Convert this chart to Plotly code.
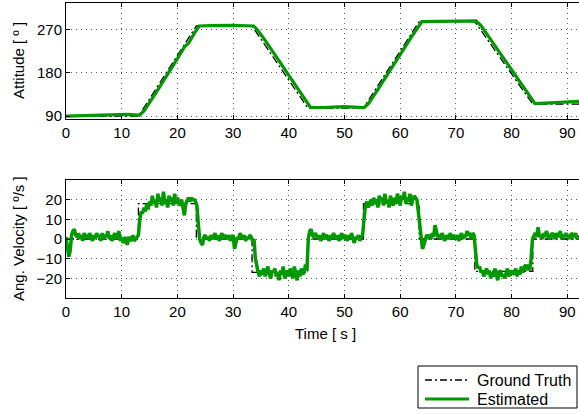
import plotly.graph_objects as go
from plotly.subplots import make_subplots

# ---------------- data ----------------
# Ground truth attitude breakpoints [s], [deg]
gt_att_t = [0, 13.0, 23.4, 33.4, 43.4, 53.4, 63.4, 73.4, 83.8, 92.2]
gt_att_v = [90, 90, 278, 278, 107, 107, 287, 287, 115, 115]

# Estimated attitude
est_att_t = [0, 3, 6, 9, 11, 13.2, 14, 16, 18, 20, 21.3, 22, 23, 23.9, 26, 30, 33.7,
             34.5, 36, 38, 40, 42, 43.9, 46, 50, 53.5, 54.3, 56, 58, 60, 62, 63.9,
             66, 70, 73.6, 74.5, 76, 78, 80, 82, 84.2, 86, 89, 92.2]
est_att_v = [90, 91, 92, 93, 93.5, 92, 101, 136, 172, 210, 235, 242, 262, 278, 279, 279.5, 278,
             268, 244, 210, 177, 142, 108, 108, 110, 108, 116, 146, 183, 219, 255, 287,
             287, 288, 288.5, 279, 254, 221, 187, 152, 116, 117, 119, 121]

# Ground truth angular velocity (step profile) [s], [deg/s]
gt_vel_t = [0, 13.0, 13.0, 23.4, 23.4, 33.4, 33.4, 43.4, 43.4, 53.4, 53.4, 63.4, 63.4,
            73.4, 73.4, 83.8, 83.8, 92.2]
gt_vel_v = [0, 0, 18, 18, 0, 0, -17, -17, 0, 0, 18, 18, 0, 0, -16.5, -16.5, 0, 0]

# Estimated angular velocity, sampled every 0.25 s from t = 0 (one row = 5 s)
est_vel_t0 = 0.0
est_vel_dt = 0.25
est_vel_v = [
    1, -3, -9, -6, 2, 4, 5, 2, 1, 3, 0, 2, -1, 3, 1, 2, 0, 3, 1, -1,                    # 0-5
    2, 0, 3, 1, 2, -1, 3, 0, 2, 1, 4, 0, 2, -1, 1, 3, 0, 2, 4, -1,                      # 5-10
    1, -2, 0, 1, -3, 1, 0, -1, 2, -1, 0, 1, 2, 10, 14, 13, 16, 14, 18, 15,              # 10-15
    19, 17, 22, 18, 20, 16, 23, 19, 21, 17, 24, 18, 20, 16, 22, 19, 21, 17, 23, 18,     # 15-20
    21, 19, 17, 20, 15, 12, 18, 20, 21, 19, 21, 20, 20, 19, 17, 8, 0, -2, -3, 1,        # 20-25
    2, 0, 1, -1, 2, 0, 1, 3, 0, 2, -1, 1, 3, 0, 2, 1, 0, 2, -1, 1,                      # 25-30
    2, -5, -2, 1, 0, 3, 1, 0, 2, -1, 1, 0, 2, 1, -1, 0, -10, -15, -17, -19,             # 30-35
    -16, -18, -15, -19, -17, -14, -18, -20, -16, -17, -15, -19, -17, -21, -16, -18, -14, -20, -18, -16,  # 35-40
    -19, -15, -18, -20, -14, -17, -21, -16, -19, -15, -18, -17, -13, -16, 0, 4, 5, 2, 1, 3,             # 40-45
    1, 0, 2, -1, 1, 3, 0, 2, 1, -1, 2, 0, 3, 1, 0, 2, -1, 1, 3, 0,                      # 45-50
    2, 1, -1, 2, 0, 3, 1, -2, 1, 0, 2, -1, 1, 2, 10, 17, 19, 16, 18, 20,                # 50-55
    17, 21, 18, 20, 16, 22, 19, 21, 17, 23, 18, 20, 16, 22, 19, 17, 21, 18, 23, 19,     # 55-60
    17, 22, 20, 24, 18, 21, 19, 23, 17, 20, 22, 21, 20, 14, 8, -1, -5, -3, 0, 2,        # 60-65
    1, 2, 0, 3, 1, 7, 4, 1, 2, 0, 3, 1, -1, 2, 0, 1, 3, 0, 2, 1,                        # 65-70
    0, 2, -1, 1, 3, 0, 2, 1, 4, 2, 3, 0, 3, 2, -6, -13, -15, -14, -17, -16,             # 70-75
    -19, -17, -15, -18, -16, -20, -17, -19, -15, -18, -21, -17, -16, -19, -18, -20, -17, -15, -19, -17,  # 75-80
    -16, -18, -17, -15, -19, -16, -18, -14, -17, -15, -13, -16, -13, -16, -10, 0, 2, 3, 1, 6,           # 80-85
    1, 2, 0, 3, 1, 4, 2, 0, 1, 3, 2, 0, 3, 1, 2, 4, 0, 2, 1, 3,                         # 85-90
    1, 2, 0, 3, 2, 1, 3, 0, 2,                                                           # 90-92
]
est_vel_t = [est_vel_t0 + i * est_vel_dt for i in range(len(est_vel_v))]

x_ticks = [0, 10, 20, 30, 40, 50, 60, 70, 80, 90]
att_ticks = [90, 180, 270]
vel_ticks = [-20, -10, 0, 10, 20]
legend_labels = ["Ground Truth", "Estimated"]

# ---------------- figure ----------------
W, H = 579, 414
ML, MT, MB = 66, 3, 116
plot_w = W - ML
plot_h = H - MT - MB

def py(Y):  # pixel row -> paper y
    return (H - MB - Y) / plot_h

def px(X):  # pixel column -> paper x
    return (X - ML) / plot_w

fig = make_subplots(rows=2, cols=1)
fig.update_layout(
    xaxis=dict(domain=[0, 1]), xaxis2=dict(domain=[0, 1]),
    yaxis=dict(domain=[py(119), 1.0]), yaxis2=dict(domain=[0, py(180)]),
)

GREEN = "#009a00"
DASH = "8px,3px,2px,3px"
GT_LINE = dict(color="black", width=1.3, dash=DASH)

fig.add_trace(go.Scatter(x=gt_att_t, y=gt_att_v, mode="lines", name=legend_labels[0],
                         line=GT_LINE, showlegend=False), row=1, col=1)
fig.add_trace(go.Scatter(x=est_att_t, y=est_att_v, mode="lines", name=legend_labels[1],
                         line=dict(color=GREEN, width=3.2), showlegend=False), row=1, col=1)
fig.add_trace(go.Scatter(x=gt_vel_t, y=gt_vel_v, mode="lines", name=legend_labels[0],
                         line=GT_LINE, showlegend=False), row=2, col=1)
fig.add_trace(go.Scatter(x=est_vel_t, y=est_vel_v, mode="lines", name=legend_labels[1],
                         line=dict(color=GREEN, width=3.5), showlegend=False), row=2, col=1)

FONT = dict(family="Liberation Sans, Arial, sans-serif", size=15, color="black")
LFONT = dict(family="Liberation Sans, Arial, sans-serif", size=16, color="black")
axis_common = dict(
    showline=True, linecolor="black", linewidth=1,
    ticks="inside", ticklen=4, tickcolor="black",
    showgrid=True, gridcolor="#555555", gridwidth=1, griddash="1px,4px",
    zeroline=False, tickfont=FONT, automargin=False,
)

for r in (1, 2):
    fig.update_xaxes(range=[0, 92.1], tickvals=x_ticks, mirror="ticks", row=r, col=1, **axis_common)
fig.update_yaxes(range=[84, 326], tickvals=att_ticks, row=1, col=1, **axis_common)
fig.update_yaxes(range=[-30, 30], tickvals=vel_ticks, row=2, col=1, **axis_common)

annos = [
    dict(text="Attitude [ º ]", x=18, y=61, textangle=-90, xanchor="center", font=FONT),
    dict(text="Ang. Velocity [ º/s ]", x=18, y=239, textangle=-90, xanchor="center", font=FONT),
    dict(text="Time [ s ]", x=325, y=333, textangle=0, xanchor="center", font=FONT),
    dict(text=legend_labels[0], x=475, y=380, textangle=0, xanchor="left", font=LFONT),
    dict(text=legend_labels[1], x=475, y=399, textangle=0, xanchor="left", font=LFONT),
]
for a in annos:
    fig.add_annotation(text=a["text"], xref="paper", yref="paper",
                       x=px(a["x"]), y=py(a["y"]), textangle=a["textangle"],
                       showarrow=False, xanchor=a["xanchor"], yanchor="middle", font=a["font"])

# legend box and symbols (paper coordinates)
fig.add_shape(type="rect", xref="paper", yref="paper",
              x0=px(418), x1=px(577), y0=py(366), y1=py(408),
              line=dict(color="black", width=1), fillcolor="white")
fig.add_shape(type="line", xref="paper", yref="paper",
              x0=px(425), x1=px(469), y0=py(380), y1=py(380),
              line=dict(color="black", width=1.6, dash="7px,3px,2px,3px"))
fig.add_shape(type="line", xref="paper", yref="paper",
              x0=px(425), x1=px(469), y0=py(399), y1=py(399),
              line=dict(color=GREEN, width=3))

fig.update_layout(
    width=W, height=H,
    margin=dict(l=ML, r=0, t=MT, b=MB, pad=0, autoexpand=False),
    paper_bgcolor="white", plot_bgcolor="white",
    font=FONT,
    showlegend=False,
)

fig.write_html("out.html",
               config={"displayModeBar": False},
               post_script="document.body.style.margin='0';document.body.style.overflow='hidden';")
